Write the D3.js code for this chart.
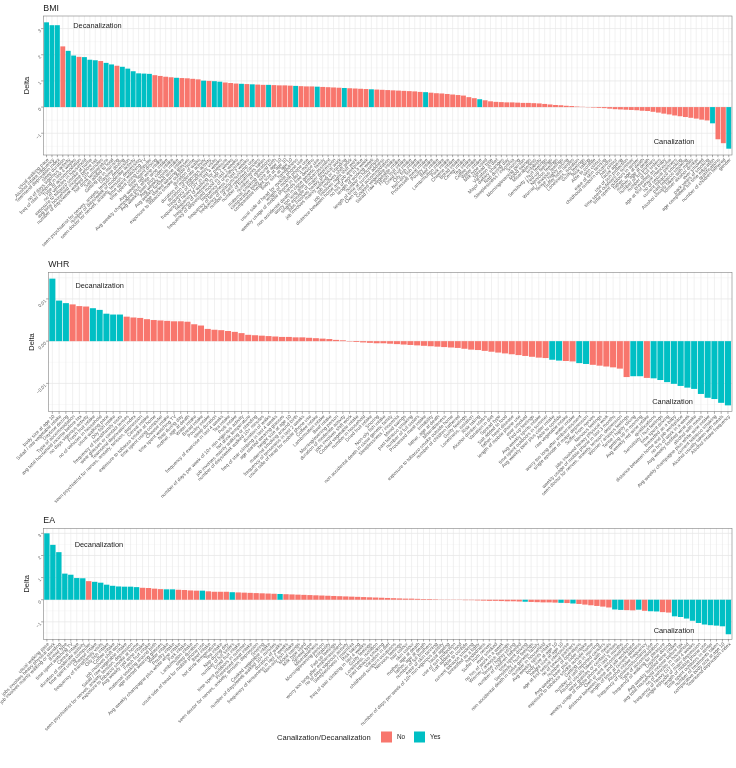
<!DOCTYPE html>
<html>
<head>
<meta charset="utf-8">
<script src="https://cdn.jsdelivr.net/npm/d3@7"></script>
<style>
    body { margin: 0; background: #fff; }
    text { font-family: "Liberation Sans", Arial, sans-serif; }
    .axis-text { filter: grayscale(1); }
</style>
</head>
<body>
<div id="chart"></div>
<script>

// ---- data ----
const bmiLabels = ["usual walking pace", "Alcohol intake frequency", "Townsend deprivation index", "sleep duration",
    "no of days vigorous activity", "freq of stair climbing in last 4 weeks", "Type of accommodation", "no of vehicles in household",
    "exposure to tobacco smoke at home", "avg total household income before tax", "number of days/week walked 10+ minutes",
    "hot drink temperature", "Salt added to food", "Getting up in morning", "Daytime dozing",
    "seen psychiatrist for nerves, anxiety, tension, depression", "number of days/week of moderate activity",
    "seen doctor for nerves, anxiety, tension, depression", "time spent watching TV", "time spent using computer",
    "time spent driving", "Avg weekly red wine intake", "Avg weekly champagne plus white wine intake",
    "Avg weekly beer plus cider intake", "Avg weekly spirits intake", "Avg weekly fortified wine intake",
    "age started wearing glasses", "exposure to tobacco smoke outside home", "duration of walks",
    "duration of moderate activity", "duration of vigorous activity", "frequency of friend/family visits",
    "frequency of heavy DIY in last 4 weeks", "frequency of walking for pleasure", "frequency of tiredness in last 2 weeks",
    "frequency of depressed mood in last 2 weeks", "frequency of unenthusiasm", "frequency of tenseness in last 2 weeks",
    "frequency of solarium/sunlamp use", "number of self-reported cancers", "number of treatments taken",
    "number of operations", "maternal smoking around birth", "comparative body size at age 10",
    "comparative height size at age 10", "body size at age 10", "handedness", "usual side of head for mobile phone use",
    "length of mobile phone use", "weekly usage of mobile phone in last 3 months", "hands-free device use",
    "non accidental death in close genetic family", "worry too long after embarrassment",
    "single episode of major depression", "jobs involves heavy physical work", "job involves mainly walking or standing",
    "job involves shift work", "job involves night shift work", "distance between home and job workplace",
    "no hrs of work in a week", "length of working week", "number in household", "length of time at current address",
    "Own or rent accommodation", "Cooked vegetable intake", "Salad / raw vegetable intake", "Fresh fruit intake",
    "Dried fruit intake", "Oily fish intake", "Non-oily fish intake", "Processed meat intake", "Poultry intake",
    "Beef intake", "Lamb/mutton intake", "Pork intake", "Cheese intake", "Bread intake", "Cereal intake", "Tea intake",
    "Coffee intake", "Water intake", "Milk type used", "Spread type", "Variation in diet", "Major dietary changes",
    "Nap during day", "Sleeplessness / insomnia", "Snoring", "Morning/evening person", "Mood swings", "Miserableness",
    "Irritability", "Sensitivity / hurt feelings", "Fed-up feelings", "Nervous feelings", "Worrier / anxious feelings",
    "Tense / highly strung", "Suffer from nerves", "Loneliness, isolation", "Guilty feelings", "Risk taking",
    "Able to confide", "skin colour", "ease of skin tanning", "childhood sunburn occasions", "hair colour",
    "facial ageing", "use of sun protection", "time spent outdoors in summer", "time spent outdoors in winter",
    "father, age at death", "mother, age at death", "number of full brothers", "number of full sisters",
    "breastfed as a baby", "age at first sexual intercourse", "no of sexual partners", "current tobacco smoking",
    "past tobacco smoking", "Alcohol usually taken with meals", "former alcohol drinker", "ever smoked",
    "pack years of smoking", "age completed full time education", "qualifications", "number of children fathered",
    "gender"];
const bmiDelta = [3.24, 3.13, 3.13, 2.32, 2.15, 1.97, 1.92, 1.91, 1.81, 1.79,
    1.76, 1.69, 1.63, 1.58, 1.54, 1.47, 1.37, 1.29, 1.28, 1.27,
    1.22, 1.19, 1.16, 1.14, 1.12, 1.11, 1.10, 1.08, 1.06, 1.01,
    1.00, 0.99, 0.97, 0.94, 0.92, 0.90, 0.89, 0.88, 0.87, 0.86,
    0.85, 0.85, 0.84, 0.83, 0.83, 0.82, 0.81, 0.80, 0.79, 0.79,
    0.78, 0.77, 0.76, 0.75, 0.74, 0.73, 0.72, 0.71, 0.70, 0.69,
    0.68, 0.67, 0.66, 0.65, 0.64, 0.63, 0.62, 0.61, 0.60, 0.58,
    0.57, 0.55, 0.53, 0.52, 0.50, 0.48, 0.46, 0.44, 0.38, 0.34,
    0.30, 0.26, 0.22, 0.20, 0.19, 0.18, 0.18, 0.17, 0.16, 0.16,
    0.15, 0.14, 0.12, 0.10, 0.08, 0.07, 0.05, 0.04, 0.02, 0.01,
    -0.01, -0.02, -0.03, -0.04, -0.06, -0.08, -0.09, -0.10, -0.11, -0.12,
    -0.14, -0.15, -0.18, -0.21, -0.25, -0.28, -0.32, -0.35, -0.38, -0.41,
    -0.44, -0.48, -0.51, -0.62, -1.23, -1.38, -1.59];
const bmiYes = [1, 1, 1, 0, 1, 1, 0, 1, 1, 1,
    0, 1, 1, 0, 1, 1, 1, 1, 1, 1,
    0, 0, 0, 0, 1, 0, 0, 0, 0, 1,
    0, 1, 1, 0, 0, 0, 1, 0, 1, 0,
    0, 1, 0, 0, 0, 0, 1, 0, 0, 0,
    1, 0, 0, 0, 0, 1, 0, 0, 0, 0,
    1, 0, 0, 0, 0, 0, 0, 0, 0, 0,
    1, 0, 0, 0, 0, 0, 0, 0, 0, 0,
    1, 0, 0, 0, 0, 0, 0, 0, 0, 0,
    0, 0, 0, 0, 0, 0, 0, 0, 0, 0,
    0, 0, 0, 0, 0, 0, 0, 0, 0, 0,
    0, 0, 0, 0, 0, 0, 0, 0, 0, 0,
    0, 0, 0, 1, 0, 0, 1];

const whrLabels = ["body size at age 10", "Salad / raw vegetable intake", "Daytime dozing", "Type of accommodation",
    "avg total household income before tax", "no days vigorous activity", "Fresh fruit intake",
    "no of vehicles in household", "usual walking pace", "Oily fish intake", "frequency of friend/family visits",
    "wear glasses or contact lenses", "Townsend deprivation index",
    "seen psychiatrist for nerves, anxiety, tension, depression", "Cereal intake", "exposure to tobacco smoke at home",
    "time spent using computer", "Cheese intake", "time spent watching TV", "Nap during day", "mother, age at death",
    "Water intake", "Bread intake", "Poultry intake", "sleep duration", "frequency of exercise in last 4 weeks",
    "Tea intake", "Pork intake", "number of days per week of 10+ min vigorous activity", "hot drink temperature",
    "job involves mainly walking or standing", "number of days/week walked 10+ minutes", "duration of walks",
    "freq of stair climbing in last 4 weeks", "age started wearing glasses", "height size at age 10",
    "maternal smoking around birth", "frequency of tenseness in last 2 weeks", "usual side of head for mobile phone use",
    "Coffee intake", "Lamb/mutton intake", "Beef intake", "Morning/evening person", "duration of moderate activity",
    "jobs involves shift work", "Cooked vegetable intake", "number in household", "Dried fruit intake", "Snoring",
    "Non-oily fish intake", "non accidental death in close genetic family", "Sleeplessness / insomnia", "Mood swings",
    "past tobacco smoking", "number of full sisters", "Processed meat intake", "Irritability", "father, age at death",
    "Miserableness", "exposure to tobacco smoke outside home", "number of children fathered", "Guilty feelings",
    "Loneliness, isolation", "Risk taking", "Alcohol drinker status", "Variation in diet", "Spread type",
    "Salt added to food", "father, heart disease", "length of mobile phone use", "ever smoked", "Fed-up feelings",
    "Avg weekly spirits intake", "time spent outdoors in summer", "Avg weekly beer plus cider intake", "Able to confide",
    "raw vegetable intake", "water intake", "worry too long after embarrassment", "single episode of major depression",
    "Suffer from nerves", "Nervous feelings", "jobs involved heavy physical work",
    "weekly usage of mobile phone in last 3 months", "seen doctor for nerves, anxiety, tension, depression",
    "Worrier / anxious feelings", "Tense / highly strung", "getting up in morning", "Avg weekly red wine intake",
    "qualifications", "Sensitivity / hurt feelings", "time spent driving", "breastfed as a baby",
    "distance between home and job workplace", "no hrs of work in a week", "Avg weekly fortified wine intake",
    "alcohol with meals", "Avg weekly champagne plus white wine intake", "current tobacco smoking",
    "Alcohol usually taken with meals", "Alcohol intake frequency"];
const whrDelta = [0.0148, 0.0096, 0.0090, 0.0087, 0.0083, 0.0082, 0.0078, 0.0074, 0.0065, 0.0063,
    0.0063, 0.0058, 0.0056, 0.0055, 0.0052, 0.0050, 0.0049, 0.0048, 0.0047, 0.0047,
    0.0046, 0.0040, 0.0037, 0.0029, 0.0027, 0.0026, 0.0024, 0.0022, 0.0019, 0.0015,
    0.0014, 0.0013, 0.0012, 0.0011, 0.0010, 0.0010, 0.0009, 0.0009, 0.0008, 0.0007,
    0.0006, 0.0005, 0.0003, 0.0002, -0.0001, -0.0002, -0.0003, -0.0004, -0.0005, -0.0005,
    -0.0006, -0.0007, -0.0008, -0.0009, -0.0010, -0.0011, -0.0012, -0.0013, -0.0014, -0.0015,
    -0.0016, -0.0018, -0.0020, -0.0021, -0.0023, -0.0025, -0.0027, -0.0029, -0.0031, -0.0033,
    -0.0035, -0.0037, -0.0039, -0.0040, -0.0044, -0.0046, -0.0047, -0.0048, -0.0052, -0.0054,
    -0.0056, -0.0058, -0.0060, -0.0062, -0.0065, -0.0085, -0.0083, -0.0083, -0.0087, -0.0088,
    -0.0092, -0.0097, -0.0101, -0.0106, -0.0110, -0.0113, -0.0125, -0.0134, -0.0137, -0.0146,
    -0.0152];
const whrYes = [1, 1, 1, 0, 0, 0, 1, 1, 1, 1,
    1, 0, 0, 0, 0, 0, 0, 0, 0, 0,
    0, 0, 0, 0, 0, 0, 0, 0, 0, 0,
    0, 0, 0, 0, 0, 0, 0, 0, 0, 0,
    0, 0, 0, 0, 0, 0, 0, 0, 0, 0,
    0, 0, 0, 0, 0, 0, 0, 0, 0, 0,
    0, 0, 0, 0, 0, 0, 0, 0, 0, 0,
    0, 0, 0, 0, 1, 1, 0, 0, 1, 1,
    0, 0, 0, 0, 0, 0, 1, 1, 0, 1,
    1, 1, 1, 1, 1, 1, 1, 1, 1, 1,
    1];

const eaLabels = ["usual walking pace", "jobs involves heavy physical work", "job involves mainly walking or standing",
    "Bread type", "time spent watching TV", "Cereal intake", "duration of moderate activity", "time spent using computer",
    "Cheese intake", "frequency of friend/family visits", "Oily fish intake", "Coffee intake", "job involves shift work",
    "Salad / raw vegetable intake", "seen psychiatrist for nerves, anxiety, tension, depression",
    "exposure to tobacco smoke at home", "Avg weekly red wine intake", "Fresh fruit intake",
    "maternal smoking around birth", "age started wearing glasses", "Water intake", "Poultry intake",
    "Avg weekly champagne plus white wine intake", "Pork intake", "Lamb/mutton intake", "sleep duration",
    "usual side of head for mobile phone use", "Beef intake", "hot drink temperature", "Tea intake", "Nap during day",
    "number of full sisters", "Dried fruit intake", "time spent outdoors in summer", "Processed meat intake",
    "seen doctor for nerves, anxiety, tension, depression", "Snoring", "Cooked vegetable intake",
    "number of days/week walked 10+ minutes", "duration of walks", "frequency of tenseness in last 2 weeks",
    "Non-oily fish intake", "Mood swings", "Milk type used", "Spread type", "Miserableness", "Morning/evening person",
    "Irritability", "Fed-up feelings", "worry too long after embarrassment", "no of days vigorous activity",
    "Sleeplessness / insomnia", "Risk taking", "freq of stair climbing in last 4 weeks", "Guilty feelings",
    "Loneliness, isolation", "past tobacco smoking", "Variation in diet", "childhood sunburn occasions",
    "Nervous feelings", "hair colour", "skin colour", "mother, age at death", "father, age at death",
    "number of full brothers", "ease of skin tanning", "number of days per week of 10+ min vigorous activity",
    "facial ageing", "use of sun protection", "Salt added to food", "Able to confide", "current tobacco smoking",
    "breastfed as a baby", "handedness", "Suffer from nerves", "ever smoked", "no hrs of work in a week",
    "Worrier / anxious feelings", "Tense / highly strung", "number of children fathered", "time spent driving",
    "Sensitivity / hurt feelings", "non accidental death in close genetic family", "number in household",
    "Avg weekly spirits intake", "body size at age 10", "height size at age 10", "age at first sexual intercourse",
    "no of sexual partners", "number of operations", "Avg weekly beer plus cider intake",
    "exposure to tobacco smoke outside home", "Getting up in morning", "number of self-reported cancers",
    "Alcohol usually taken with meals", "wear glasses or contact lenses",
    "weekly usage of mobile phone in last 3 months", "Own or rent accommodation",
    "distance between home and job workplace", "length of time at current address", "Alcohol intake frequency",
    "frequency of solarium/sunlamp use", "Type of accommodation", "frequency of walking for pleasure",
    "Daytime dozing", "Avg weekly fortified wine intake", "avg total household income before tax",
    "no of vehicles in household", "frequency of heavy DIY in last 4 weeks", "single episode of major depression",
    "length of mobile phone use", "time spent outdoors in winter", "number of treatments taken",
    "comparative body size at age 10", "Townsend deprivation index"];
const eaDelta = [3.00, 2.48, 2.15, 1.18, 1.13, 0.98, 0.97, 0.84, 0.81, 0.77,
    0.68, 0.63, 0.60, 0.59, 0.59, 0.57, 0.54, 0.53, 0.50, 0.48,
    0.47, 0.47, 0.45, 0.44, 0.42, 0.41, 0.41, 0.38, 0.36, 0.36,
    0.36, 0.34, 0.33, 0.32, 0.31, 0.30, 0.29, 0.28, 0.27, 0.26,
    0.25, 0.24, 0.23, 0.22, 0.21, 0.20, 0.19, 0.18, 0.17, 0.16,
    0.15, 0.14, 0.13, 0.12, 0.11, 0.10, 0.09, 0.08, 0.07, 0.06,
    0.05, 0.05, 0.04, 0.03, 0.03, 0.02, 0.01, 0.01, -0.01, -0.01,
    -0.02, -0.02, -0.03, -0.04, -0.05, -0.05, -0.06, -0.07, -0.07, -0.08,
    -0.09, -0.10, -0.11, -0.12, -0.12, -0.13, -0.14, -0.15, -0.17, -0.19,
    -0.22, -0.25, -0.28, -0.31, -0.35, -0.44, -0.46, -0.47, -0.48, -0.45,
    -0.50, -0.52, -0.53, -0.56, -0.58, -0.75, -0.78, -0.85, -0.95, -1.05,
    -1.12, -1.15, -1.17, -1.20, -1.56];
const eaYes = [1, 1, 1, 1, 1, 1, 1, 0, 1, 1,
    1, 1, 1, 1, 1, 1, 0, 0, 0, 0,
    1, 1, 0, 0, 0, 0, 1, 0, 0, 0,
    0, 1, 0, 0, 0, 0, 0, 0, 0, 1,
    0, 0, 0, 0, 0, 0, 0, 0, 0, 0,
    0, 0, 0, 0, 0, 0, 0, 0, 0, 0,
    0, 0, 0, 0, 0, 0, 0, 0, 0, 0,
    0, 0, 0, 0, 0, 0, 0, 0, 0, 0,
    1, 0, 0, 0, 0, 0, 1, 0, 1, 0,
    0, 0, 0, 0, 0, 1, 1, 0, 0, 1,
    0, 1, 1, 0, 0, 1, 1, 1, 1, 1,
    1, 1, 1, 1, 1];

const bmiTicks = [-1, 0, 1, 2, 3];
const whrTicks = [-0.01, 0, 0.01];
const eaTicks = [-1, 0, 1, 2, 3];

const legendTitle = "Canalization/Decanalization";
const legendKeys = ["No", "Yes"];
const fillColors = ["#F8766D", "#00BFC4"];

// ---- layout ----
const W = 736, H = 768;

const svg = d3.select("#chart").append("svg")
    .attr("width", W)
    .attr("height", H);

const panels = [
    {title: "BMI", labels: bmiLabels, delta: bmiDelta, yes: bmiYes, ticks: bmiTicks, fmt: d3.format("d"),
        top: 16, bottom: 155, left: 43.3, minorStep: 0.5,
        dec: {i: 10.4, v: 3.12}, can: {i: 116.9, v: -1.33}},
    {title: "WHR", labels: whrLabels, delta: whrDelta, yes: whrYes, ticks: whrTicks, fmt: d3.format(".2f"),
        top: 272.3, bottom: 411.7, left: 48.3, minorStep: 0.005,
        dec: {i: 8.0, v: 0.0131}, can: {i: 92.8, v: -0.0143}},
    {title: "EA", labels: eaLabels, delta: eaDelta, yes: eaYes, ticks: eaTicks, fmt: d3.format("d"),
        top: 528.3, bottom: 639.3, left: 43.3, minorStep: 0.5,
        dec: {i: 9.7, v: 2.52}, can: {i: 105.9, v: -1.37}}
];
const right = 732;

panels.forEach(p => drawPanel(p));

function drawPanel(p) {
    let g = svg.append("g");

    let x = d3.scaleBand()
        .domain(d3.range(p.labels.length))
        .range([p.left, right])
        .paddingInner(0.1)
        .paddingOuter(0.15);

    // ggplot style 5% expansion
    let ext = d3.extent(p.delta);
    let pad = (ext[1] - ext[0]) * 0.05;
    let y = d3.scaleLinear()
        .domain([ext[0] - pad, ext[1] + pad])
        .range([p.bottom, p.top]);

    let cx = i => x(i) + x.bandwidth() / 2;
    // position for fractional (1-based) bar index, used by the annotations
    let fx = i => x.range()[0] + x.step() * (0.15 + i - 1) + x.bandwidth() / 2;

    // minor grid
    let dom = y.domain();
    let minors = d3.range(Math.ceil(dom[0] / p.minorStep) * p.minorStep, dom[1], p.minorStep)
        .filter(v => Math.abs(Math.round(v / p.minorStep)) % 2 === 1);
    g.selectAll(".minor").data(minors).enter().append("line")
        .attr("x1", p.left).attr("x2", right)
        .attr("y1", d => y(d)).attr("y2", d => y(d))
        .attr("stroke", "#f2f2f2").attr("stroke-width", 0.5);

    // major grid
    g.selectAll(".hmajor").data(p.ticks).enter().append("line")
        .attr("x1", p.left).attr("x2", right)
        .attr("y1", d => y(d)).attr("y2", d => y(d))
        .attr("stroke", "#e8e8e8").attr("stroke-width", 0.8);

    g.selectAll(".vmajor").data(p.labels).enter().append("line")
        .attr("x1", (d, i) => cx(i)).attr("x2", (d, i) => cx(i))
        .attr("y1", p.top).attr("y2", p.bottom)
        .attr("stroke", "#e8e8e8").attr("stroke-width", 0.6);

    // bars
    g.selectAll(".bar").data(p.delta).enter().append("rect")
        .attr("x", (d, i) => x(i))
        .attr("width", x.bandwidth())
        .attr("y", d => y(Math.max(0, d)))
        .attr("height", d => Math.abs(y(d) - y(0)))
        .attr("fill", (d, i) => fillColors[p.yes[i]]);

    // border
    g.append("rect")
        .attr("x", p.left).attr("y", p.top)
        .attr("width", right - p.left).attr("height", p.bottom - p.top)
        .attr("fill", "none").attr("stroke", "#808080").attr("stroke-width", 0.6);

    // x axis ticks + labels
    g.selectAll(".xtick").data(p.labels).enter().append("line")
        .attr("x1", (d, i) => cx(i)).attr("x2", (d, i) => cx(i))
        .attr("y1", p.bottom).attr("y2", p.bottom + 2.2)
        .attr("stroke", "#555").attr("stroke-width", 0.5);

    let axisText = g.append("g").attr("class", "axis-text");

    axisText.selectAll(".xlab").data(p.labels).enter().append("text")
        .attr("transform", (d, i) => `translate(${cx(i) + 1.3},${p.bottom + 3.8}) rotate(-45)`)
        .attr("text-anchor", "end")
        .attr("dy", "0.35em")
        .attr("font-size", 4.9)
        .attr("fill", "#5a5a5a")
        .text(d => d);

    // y axis
    g.selectAll(".ytick").data(p.ticks).enter().append("line")
        .attr("x1", p.left - 2.2).attr("x2", p.left)
        .attr("y1", d => y(d)).attr("y2", d => y(d))
        .attr("stroke", "#555").attr("stroke-width", 0.5);

    axisText.selectAll(".ylab").data(p.ticks).enter().append("text")
        .attr("transform", d => `translate(${p.left - 3},${y(d) + 1.2}) rotate(-45)`)
        .attr("text-anchor", "end")
        .attr("dy", "0.35em")
        .attr("font-size", 4.6)
        .attr("fill", "#5a5a5a")
        .text(d => p.fmt(d));

    g.append("text")
        .attr("transform", `translate(${p.left - 17},${(p.top + p.bottom) / 2}) rotate(-90)`)
        .attr("text-anchor", "middle")
        .attr("dy", "0.35em")
        .attr("font-size", 7.5)
        .attr("fill", "#1a1a1a")
        .text("Delta");

    // title
    g.append("text")
        .attr("x", p.left)
        .attr("y", p.top - 5.5)
        .attr("font-size", 8.8)
        .attr("fill", "#1a1a1a")
        .text(p.title);

    // annotations
    g.append("text")
        .attr("x", fx(p.dec.i)).attr("y", y(p.dec.v))
        .attr("text-anchor", "middle").attr("dy", "0.35em")
        .attr("font-size", 7.4).attr("fill", "#1a1a1a")
        .text("Decanalization");

    g.append("text")
        .attr("x", fx(p.can.i)).attr("y", y(p.can.v))
        .attr("text-anchor", "middle").attr("dy", "0.35em")
        .attr("font-size", 7.4).attr("fill", "#1a1a1a")
        .text("Canalization");
}

// legend
let legend = svg.append("g").attr("transform", "translate(277,737)");
legend.append("text")
    .attr("x", 0).attr("dy", "0.35em")
    .attr("font-size", 7.6).attr("fill", "#1a1a1a")
    .text(legendTitle);

let keyX = [104, 137];
legendKeys.forEach((k, i) => {
    legend.append("rect")
        .attr("x", keyX[i]).attr("y", -5.5)
        .attr("width", 11).attr("height", 11)
        .attr("fill", fillColors[i]);
    legend.append("text")
        .attr("x", keyX[i] + 16).attr("dy", "0.35em")
        .attr("font-size", 6.4).attr("fill", "#1a1a1a")
        .text(k);
});

</script>
</body>
</html>
